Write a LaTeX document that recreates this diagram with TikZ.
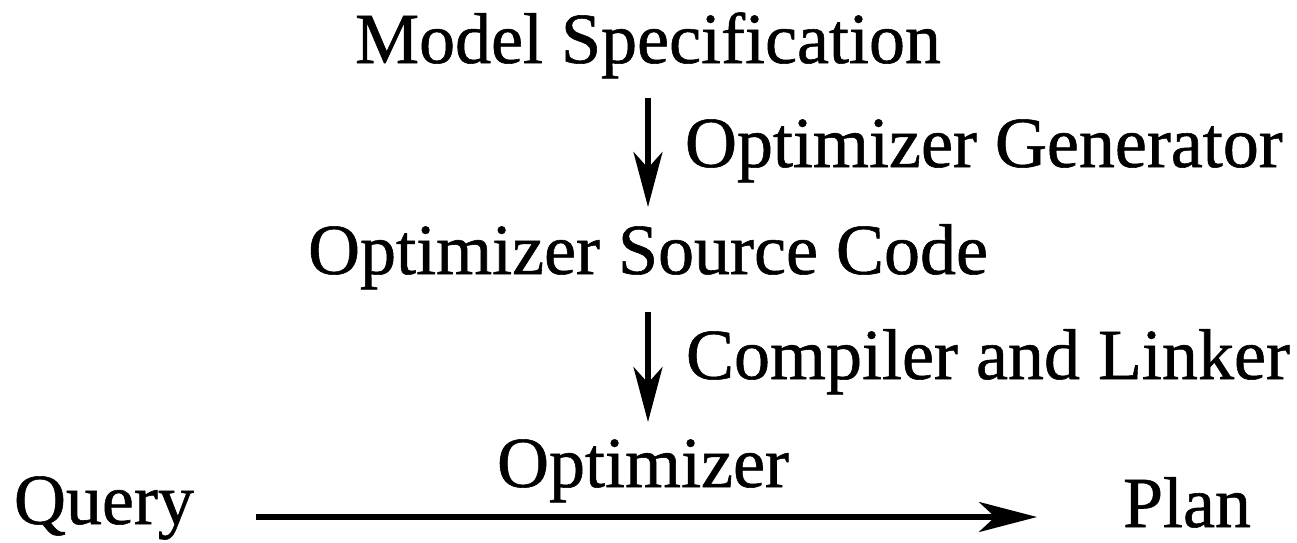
\documentclass[tikz,border=0pt]{standalone}
\usepackage{fontspec}
\setmainfont{Liberation Serif}[FakeBold=0.8]
\usetikzlibrary{arrows.meta}
\begin{document}
\begin{tikzpicture}[x=0.5pt,y=-0.5pt,
  lbl/.style={inner sep=0pt, outer sep=0pt, text height=25pt, text depth=8pt,
    font=\fontsize{36}{40}\selectfont},
  arr/.style={line width=2.6pt, -{Stealth[length=27.5pt,width=14.5pt,inset=8pt]}},
  harr/.style={line width=2.6pt, -{Stealth[length=29pt,width=15pt,inset=8pt]}}]
\useasboundingbox (0,0) rectangle (1297,542);
\node[lbl, anchor=base] (ms) at (648,63) {Model Specification};
\node[lbl, anchor=base] (osc) at (648,274) {Optimizer Source Code};
\node[lbl, anchor=base] (opt) at (643,487) {Optimizer};
\node[lbl, anchor=base west] (og) at (685,167) {Optimizer Generator};
\node[lbl, anchor=base west] (cl) at (686,379) {Compiler and Linker};
\node[lbl, anchor=base west] (q) at (14,524) {Query};
\node[lbl, anchor=base west] (p) at (1123,527) {Plan};
\draw[arr, shorten <=9.5pt, shorten >=8.5pt] (ms.south) -- (osc.north);
\draw[arr, shorten <=11pt, shorten >=7.5pt] (osc.south) -- (osc.south |- opt.north);
\draw[harr, shorten <=31pt, shorten >=43pt] ([yshift=-5pt]q.east) -- ([yshift=-5pt]q.east -| p.west);
\end{tikzpicture}
\end{document}
